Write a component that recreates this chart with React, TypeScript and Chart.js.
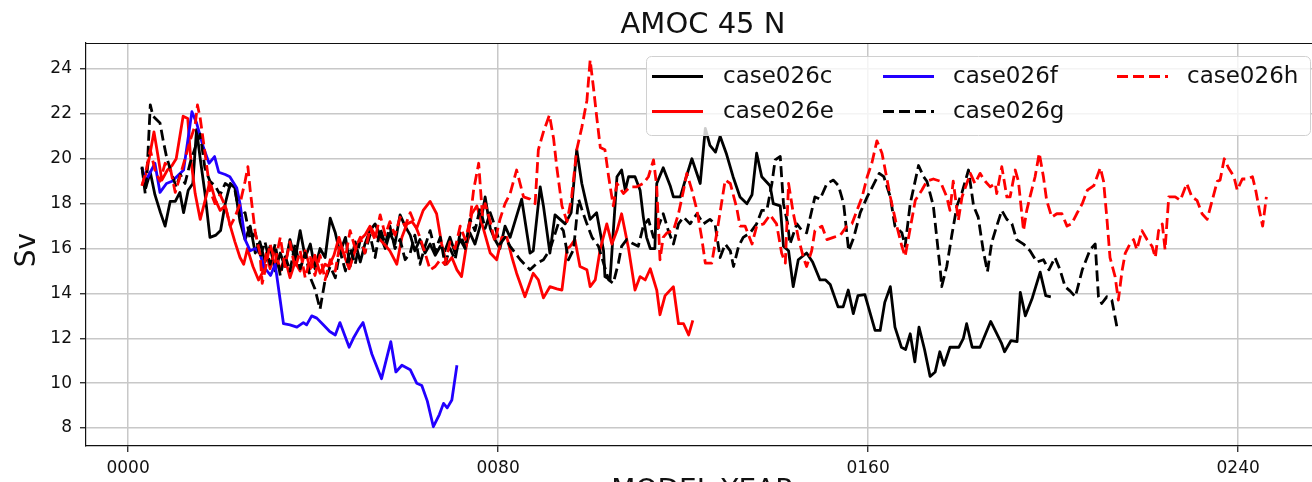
import React, { useEffect, useRef } from 'react';
import { Chart, registerables } from 'chart.js';

Chart.register(...registerables);

// ---- data: [model year, AMOC at 45N in Sv] ----
const case026c: [number, number][] = [[3,19.6],[3.8,18.7],[4.8,19.4],[5.8,18.4],[7,17.6],[8,17.0],[9.1,18.1],[10.2,18.1],[11.2,18.5],[12,17.6],[13,18.6],[14,18.9],[14.8,21.3],[15.6,20.0],[16.6,18.5],[17.7,16.5],[19,16.6],[20,16.8],[21,18.0],[22.1,18.9],[23.1,18.7],[24.2,17.2],[25.3,16.4],[26.4,17.0],[27.5,15.8],[28.5,16.3],[29.6,15.4],[30.7,16.1],[31.8,15.0],[32.9,15.8],[33.9,15.2],[35,16.4],[36.1,15.5],[37.2,16.8],[38.3,15.6],[39.4,16.2],[40.4,15.1],[41.5,16.0],[42.6,15.6],[43.7,17.35],[44.8,16.7],[45.8,15.8],[47,16.5],[48,15.2],[49.1,16.3],[50.2,15.4],[51.2,16.2],[52.3,16.8],[53.4,17.1],[54.5,16.6],[55.6,16.0],[56.6,16.7],[57.7,16.2],[58.8,17.5],[59.9,17.0],[61,16.6],[62,15.9],[63.1,16.4],[64.2,15.8],[65.3,16.2],[66.4,15.7],[67.5,16.1],[68.5,15.9],[69.6,16.5],[70.7,15.8],[71.8,16.4],[72.9,16.0],[73.9,16.7],[75,16.2],[76.1,17.0],[77.2,18.3],[78.3,16.9],[79.3,16.4],[80.4,16.0],[81.5,17.0],[82.6,16.5],[85.1,18.2],[86.9,15.8],[87.6,15.9],[89.1,18.75],[89.8,17.9],[91.2,15.8],[92.3,17.5],[93.4,17.3],[94.5,17.1],[95.8,17.6],[97,20.4],[98.1,18.9],[99.2,17.9],[99.9,17.3],[101.3,17.6],[102.8,15.9],[103.1,14.75],[104.2,14.6],[105.7,19.2],[106.7,19.5],[107.5,18.6],[108.2,19.2],[109.6,19.2],[110.7,18.6],[111.4,17.4],[112.1,16.5],[112.9,16.0],[113.9,16.0],[114.3,18.9],[115.7,19.6],[117.2,18.8],[117.9,18.3],[119.4,18.3],[120.4,19.0],[121.9,20.0],[123.7,18.9],[124.8,21.35],[125.8,20.6],[127,20.3],[128,21.0],[129.4,20.2],[130.8,19.2],[132.3,18.3],[133.8,18.0],[134.9,18.4],[135.9,20.25],[137,19.2],[138.8,18.8],[139.5,18.0],[141,17.9],[141.7,16.1],[142.8,15.9],[143.8,14.3],[144.9,15.5],[146.7,15.8],[148,15.4],[149.6,14.6],[150.8,14.6],[151.8,14.4],[153.5,13.4],[154.6,13.4],[155.7,14.15],[156.8,13.1],[157.8,13.9],[159.3,13.95],[161.5,12.35],[162.6,12.35],[163.6,13.6],[164.8,14.3],[165.8,12.5],[167.2,11.6],[168.1,11.5],[169.1,12.2],[170.1,10.95],[171,12.5],[172.2,11.5],[173.4,10.3],[174.5,10.5],[175.5,11.4],[176.4,10.8],[177.7,11.6],[179.6,11.6],[180.6,12.0],[181.3,12.65],[182.5,11.6],[184.2,11.6],[185.4,12.2],[186.5,12.75],[187.6,12.3],[188.8,11.8],[189.5,11.4],[190.9,11.9],[192.2,11.85],[192.9,14.05],[194,13.0],[195.5,13.8],[197.2,14.95],[198.4,13.9],[199.5,13.85]];

const case026e: [number, number][] = [[3,18.8],[4.1,19.5],[5.6,21.2],[6.4,20.2],[7.3,19.05],[8.5,19.5],[9.5,19.7],[10.4,20.0],[11.9,21.9],[12.9,21.8],[13.5,20.1],[14.5,18.45],[15.6,17.3],[16.6,18.1],[17.7,19.0],[18.8,18.2],[19.9,17.7],[21,17.9],[22.1,17.0],[23.1,16.3],[24.2,15.6],[25,15.3],[25.8,16.0],[27,15.2],[28.2,14.6],[29,14.9],[29.9,15.8],[30.7,15.1],[31.8,16.0],[32.9,15.0],[33.9,15.6],[35,14.7],[36.1,15.4],[37.2,15.0],[38.3,15.9],[39.4,15.1],[40.4,15.7],[41.5,14.9],[42.6,15.3],[43.4,15.2],[44.5,15.7],[45.6,16.5],[46.7,15.7],[47.8,15.1],[49.1,15.9],[50.2,16.4],[51.2,16.6],[52.3,17.0],[53.4,16.6],[54.9,16.3],[55.8,16.1],[56.6,15.9],[58.1,15.3],[59.2,16.5],[60.3,17.1],[61.4,17.2],[62.4,16.9],[63.8,17.7],[65.3,18.1],[66.7,17.55],[67.8,16.2],[68.9,15.3],[70,15.6],[71.1,15.05],[72.1,14.75],[73.2,16.2],[74.3,17.55],[75.4,17.9],[76.8,16.9],[78.3,15.8],[79.7,15.5],[80.8,16.5],[81.9,16.5],[83,15.6],[84,14.9],[85.8,13.85],[87.6,14.9],[88.7,14.6],[89.8,13.8],[91.2,14.3],[92.7,14.2],[93.8,14.15],[94.9,16.0],[95.6,16.1],[96.6,16.4],[97.7,15.2],[99.2,15.05],[99.9,14.3],[101,14.6],[102.1,16.0],[103.5,17.1],[104.6,16.2],[105.7,16.8],[106.7,17.55],[108.2,16.0],[109.6,14.15],[110.7,14.75],[111.8,14.6],[112.9,15.1],[114.3,14.15],[115,13.05],[116.1,13.9],[117.9,14.3],[119,12.65],[120.1,12.65],[121.2,12.15],[122.1,12.8]];

const case026f: [number, number][] = [[3,19.6],[3.8,19.0],[4.8,19.4],[5.8,19.8],[6.9,18.5],[8.3,18.9],[9.5,19.0],[10.5,19.2],[12,19.5],[13.8,22.1],[14.8,21.6],[16.3,20.5],[17.5,19.8],[18.7,20.1],[19.6,19.4],[21,19.3],[22,19.2],[23.5,18.7],[24.2,18.0],[25.3,16.4],[26.4,15.9],[27.5,16.0],[28.5,15.8],[29.3,15.2],[30.8,14.8],[31.8,15.3],[33.6,12.65],[35,12.6],[36.5,12.5],[37.9,12.7],[38.6,12.6],[39.7,13.0],[40.8,12.9],[42.2,12.6],[43.6,12.3],[44.8,12.15],[45.8,12.7],[47.8,11.6],[48.7,12.0],[49.8,12.4],[50.8,12.7],[52.7,11.3],[54.8,10.2],[56.8,11.85],[57.9,10.5],[59.2,10.8],[61,10.6],[62.4,10.0],[63.5,9.9],[64.7,9.2],[66,8.06],[67.3,8.6],[68.2,9.1],[69,8.9],[70,9.25],[71.1,10.8]];

const case026g: [number, number][] = [[3,19.65],[3.7,18.45],[4.1,19.4],[4.8,22.4],[5.4,21.9],[6.9,21.6],[7.6,20.8],[8.3,20.1],[9.3,19.4],[10.4,18.75],[11.3,19.3],[12.3,18.9],[13.4,19.8],[14.5,20.5],[15.6,21.1],[16.6,19.6],[17.7,19.0],[18.8,18.8],[19.9,18.4],[21,18.9],[22.1,18.75],[23.1,18.6],[24.2,17.4],[25.3,17.6],[26.4,16.4],[27.5,16.7],[28.5,15.6],[29.6,16.3],[30.7,15.3],[31.8,16.2],[32.9,14.8],[33.9,15.7],[35,15.0],[36.1,16.2],[37.2,15.1],[38.3,15.8],[39.4,14.7],[40.4,14.2],[41.5,13.3],[42.6,14.6],[43.7,15.2],[44.8,14.7],[45.8,15.9],[47,15.0],[48,16.0],[49.1,15.3],[50.2,16.4],[51.2,15.8],[52.3,16.6],[53.4,15.6],[54.5,16.9],[55.6,16.2],[56.6,17.0],[57.7,16.0],[58.8,16.4],[59.9,15.5],[61,15.8],[62,16.6],[63.1,15.3],[64.2,16.1],[65.3,16.8],[66.4,15.9],[67.5,16.5],[68.5,15.3],[69.6,16.0],[70.7,15.5],[71.8,16.7],[72.9,16.0],[73.9,17.3],[75,16.8],[76.1,17.8],[77.2,16.9],[78.3,17.6],[79.3,17.0],[80.4,16.2],[81.5,16.5],[82.6,16.1],[84.8,15.5],[86.9,15.05],[88.4,15.35],[89.8,15.5],[91.2,15.95],[93,17.1],[94.1,16.8],[95.2,15.5],[96.3,15.95],[97.4,18.2],[98.1,17.75],[99.2,17.1],[100.3,16.5],[101.7,16.1],[102.8,15.35],[103.9,14.6],[104.9,14.45],[106,15.35],[106.7,16.1],[107.8,16.4],[108.9,16.25],[110.3,16.1],[111.4,17.0],[112.5,17.3],[113.6,16.5],[114.7,17.0],[115.7,17.55],[116.8,16.8],[117.9,16.2],[119,17.1],[120.1,17.4],[121.5,17.1],[123,17.55],[124.4,17.1],[125.8,17.3],[126.9,17.1],[128,15.6],[129.1,16.2],[130.2,15.9],[130.9,15.2],[132,16.1],[133,16.5],[134.5,16.7],[135.9,17.1],[137,17.7],[138.1,17.7],[139.2,18.9],[139.9,19.95],[141,20.1],[141.7,18.0],[142.6,17.1],[143.1,16.2],[144.6,17.1],[145.7,16.8],[146.7,16.7],[148.5,18.3],[149.6,18.2],[151.1,18.9],[152.5,19.05],[153.6,18.8],[154.7,18.0],[155.8,15.9],[156.9,16.5],[158.3,17.6],[159.8,18.3],[161.3,18.9],[162.4,19.35],[163.4,19.2],[164.8,18.3],[165.8,17.0],[167.3,16.7],[168,16.1],[169.1,18.0],[170.9,19.7],[172,19.2],[172.7,19.0],[174.1,17.9],[175.6,15.05],[175.9,14.3],[177,15.2],[178.1,16.6],[179.2,17.9],[180.3,18.5],[181.7,19.5],[182.8,17.9],[183.8,17.4],[184.9,15.9],[185.8,14.97],[186.7,16.25],[187.8,17.0],[188.9,17.7],[190,17.3],[191.1,17.1],[192.1,16.4],[193.6,16.2],[195,15.9],[196.5,15.4],[197.9,15.5],[199.1,15.05],[200.4,15.6],[201.5,15.05],[202.6,14.3],[203.7,14.1],[204.8,13.85],[206.3,15.05],[208,15.95],[209.1,16.2],[209.8,13.85],[210.5,13.55],[211.6,13.85],[212.7,13.7],[213.8,12.5]];

const case026h: [number, number][] = [[3,18.8],[3.7,19.3],[4.8,20.4],[5.8,19.5],[6.9,19.0],[8,19.8],[9.1,19.6],[10.2,18.5],[11.2,19.2],[12.3,20.0],[13.4,20.8],[14.5,21.5],[15,22.4],[15.6,21.8],[16.6,20.3],[17.7,18.6],[18.8,18.0],[19.9,18.4],[21,17.9],[22.1,17.0],[23.1,17.4],[24.2,18.0],[25.3,19.0],[25.9,19.65],[26.4,18.6],[27.5,16.7],[28.5,15.8],[29,14.45],[29.6,15.0],[30.7,16.2],[31.8,15.4],[32.9,16.5],[33.9,15.2],[35,16.3],[36.1,15.1],[37.2,15.9],[38.3,14.7],[39.4,15.6],[40.4,14.8],[41.5,15.7],[42.6,14.6],[43.7,15.5],[44.8,15.0],[45.8,16.2],[47,15.6],[48,16.8],[49.1,16.0],[50.2,16.5],[51.2,15.8],[52.3,16.9],[53.4,16.4],[54.5,17.5],[55.6,16.6],[56.6,17.2],[57.7,16.6],[58.8,17.4],[59.9,17.0],[61,17.6],[62,17.1],[63.1,16.5],[64.2,15.8],[65.3,15.05],[66.4,15.2],[67.5,15.5],[68.5,15.3],[69.6,16.3],[70.7,16.0],[71.8,17.0],[72.9,16.4],[73.9,17.2],[74.7,18.6],[75.8,19.8],[76.6,17.5],[77.2,18.0],[78.3,17.2],[79.3,16.3],[80.4,17.3],[81.5,18.0],[82.6,18.45],[84,19.5],[85.5,18.3],[86.9,18.2],[88,18.0],[88.7,20.4],[89.8,21.2],[91.1,21.95],[92,20.9],[92.7,19.6],[93.8,17.9],[94.9,17.2],[95.9,18.3],[97,20.4],[98.1,21.4],[99.2,22.6],[99.9,24.4],[100.6,23.2],[101.3,21.9],[102.1,20.5],[103.1,20.4],[103.9,19.2],[104.9,17.9],[105.7,18.9],[107.1,18.45],[108.5,18.75],[110,18.75],[111.4,18.9],[112.5,19.2],[113.6,19.95],[114.3,18.75],[115,15.5],[115.7,16.5],[116.5,16.7],[117.9,16.8],[119,17.55],[120.1,18.6],[120.8,19.35],[121.9,18.6],[123,17.7],[124,16.5],[124.8,15.35],[126.2,15.35],[127.6,17.1],[129.1,19.05],[130.2,18.9],[131.6,17.8],[132.3,17.0],[133.4,17.0],[134.9,16.2],[135.9,17.0],[137.4,17.1],[138.8,17.5],[140.2,17.1],[141.3,15.8],[142.1,15.35],[142.8,18.9],[143.8,17.6],[144.9,16.5],[146,15.6],[146.7,15.2],[147.8,15.9],[148.5,16.8],[150,17.0],[151.1,16.4],[152.5,16.5],[154,16.6],[155.4,17.0],[156.5,17.1],[157.6,17.7],[158.7,18.3],[159.8,19.2],[160.8,19.8],[161.9,20.8],[163,20.25],[163.7,19.5],[164.8,18.3],[166.2,17.0],[167.3,16.1],[168,15.65],[169.1,16.9],[170.2,18.15],[171.6,18.6],[172.7,19.0],[174.1,19.1],[175.6,19.0],[177,18.3],[177.7,17.7],[178.4,19.0],[179.5,17.25],[180.3,18.3],[182.1,19.35],[183.1,18.9],[184.2,19.35],[185.3,19.0],[186.4,18.75],[187.5,18.9],[187.8,18.45],[188.9,19.65],[190,18.3],[190.7,18.3],[191.8,19.5],[192.5,19.0],[193.6,16.8],[194.3,17.7],[195,18.3],[196.1,19.2],[197,20.25],[197.9,19.2],[198.6,18.15],[199.7,17.4],[200.8,17.55],[201.9,17.55],[203,17.0],[204,17.1],[205.1,17.55],[206.3,18.0],[207.4,18.6],[208.8,18.8],[210.2,19.6],[210.9,19.0],[211.6,17.4],[212.3,15.6],[213.4,14.75],[214.1,13.7],[214.9,15.0],[215.6,15.8],[216.6,16.2],[217.4,16.4],[218.1,15.95],[219.2,16.8],[220.3,16.4],[221.4,16.1],[222.1,15.6],[222.8,16.8],[223.6,17.1],[224.2,15.95],[225,18.3],[226.4,18.3],[227.5,18.15],[228.9,18.9],[230,18.3],[231.1,18.15],[232.2,17.55],[233.3,17.3],[234.4,18.15],[235.5,19.0],[236.1,19.05],[237,20.0],[237.9,19.6],[239.1,19.2],[239.8,18.6],[240.9,19.1],[242,19.1],[243.1,19.2],[243.8,18.6],[244.6,17.7],[245.3,17.0],[246.1,18.3]];

const xTickValues = [0, 80, 160, 240];
const yTickValues = [8, 10, 12, 14, 16, 18, 20, 22, 24];
const TITLE = 'AMOC 45 N';
const Y_LABEL = 'Sv';
const X_LABEL = 'MODEL YEAR';

const BLACK = '#000000';
const RED = '#ff0000';
const BLUE = '#2200ff';
const FONT = "'DejaVu Sans', sans-serif";
const LW = 2.8;
const DASH = [11, 5];

const series = [
  { label: 'case026c', data: case026c, color: BLACK, dashed: false },
  { label: 'case026e', data: case026e, color: RED, dashed: false },
  { label: 'case026f', data: case026f, color: BLUE, dashed: false },
  { label: 'case026g', data: case026g, color: BLACK, dashed: true },
  { label: 'case026h', data: case026h, color: RED, dashed: true },
];

const CW = 1330;
const CH = 482;

const overlayPlugin = {
  id: 'overlay',
  afterDraw(chart: any) {
    const ctx = chart.ctx as CanvasRenderingContext2D;
    const ca = chart.chartArea;
    ctx.save();
    // top and right spines
    ctx.strokeStyle = '#111';
    ctx.lineWidth = 1.2;
    ctx.beginPath();
    ctx.moveTo(ca.left, ca.top + 0.5);
    ctx.lineTo(ca.right, ca.top + 0.5);
    ctx.stroke();
    ctx.beginPath();
    ctx.moveTo(ca.right - 0.5, ca.top);
    ctx.lineTo(ca.right - 0.5, ca.bottom);
    ctx.stroke();

    const cx = (ca.left + ca.right) / 2;
    ctx.fillStyle = '#111';
    // title
    ctx.font = `29px ${FONT}`;
    ctx.textAlign = 'center';
    ctx.textBaseline = 'alphabetic';
    ctx.fillText(TITLE, cx, 33);
    // x label (cropped at the bottom edge)
    ctx.font = `28px ${FONT}`;
    ctx.fillText(X_LABEL, cx, 499);
    // y label
    ctx.save();
    ctx.translate(35, 250);
    ctx.rotate(-Math.PI / 2);
    ctx.font = `28px ${FONT}`;
    ctx.fillText(Y_LABEL, 0, 0);
    ctx.restore();

    // legend
    const bx = 646, by = 56, bw = 664, bh = 79;
    ctx.beginPath();
    (ctx as any).roundRect(bx + 0.5, by + 0.5, bw, bh, 5);
    ctx.fillStyle = 'rgba(255,255,255,0.8)';
    ctx.fill();
    ctx.strokeStyle = '#d0d0d0';
    ctx.lineWidth = 1;
    ctx.stroke();

    const colX = [652, 883, 1117];
    const textX = [723, 953, 1187];
    const rowY = [76.5, 111.5];
    const order = [[0, 0], [0, 1], [1, 0], [1, 1], [2, 0]];
    ctx.font = `23px ${FONT}`;
    ctx.textAlign = 'left';
    ctx.textBaseline = 'middle';
    series.forEach((s, i) => {
      const [c, r] = order[i];
      const y = rowY[r];
      ctx.strokeStyle = s.color;
      ctx.lineWidth = LW;
      ctx.setLineDash(s.dashed ? DASH : []);
      ctx.lineCap = 'butt';
      ctx.beginPath();
      ctx.moveTo(colX[c], y);
      ctx.lineTo(colX[c] + 51, y);
      ctx.stroke();
      ctx.setLineDash([]);
      ctx.fillStyle = '#111';
      ctx.fillText(s.label, textX[c], y + 1);
    });
    ctx.restore();
  },
};

export default function App() {
  const ref = useRef<HTMLCanvasElement | null>(null);
  useEffect(() => {
    if (!ref.current) return;
    const n = series.length;
    const chart = new Chart(ref.current, {
      type: 'line',
      data: {
        datasets: series.map((s, i) => ({
          label: s.label,
          data: s.data.map(([x, y]) => ({ x, y })),
          borderColor: s.color,
          backgroundColor: s.color,
          borderWidth: LW,
          borderDash: s.dashed ? DASH : [],
          borderJoinStyle: 'round' as const,
          pointRadius: 0,
          pointHoverRadius: 0,
          tension: 0,
          fill: false,
          order: n - i,
        })),
      },
      options: {
        animation: false,
        responsive: false,
        devicePixelRatio: 1,
        events: [],
        layout: { padding: { top: 43, right: 10, left: 0, bottom: 0 } },
        plugins: {
          legend: { display: false },
          title: { display: false },
          tooltip: { enabled: false },
        },
        scales: {
          x: {
            type: 'linear',
            min: -9.1,
            max: 257.7,
            afterBuildTicks: (s: any) => {
              s.ticks = xTickValues.map((v) => ({ value: v }));
            },
            afterFit: (s: any) => {
              s.height = 36;
            },
            ticks: {
              callback: (v: any) => String(v).padStart(4, '0'),
              font: { family: FONT, size: 17 },
              color: '#111',
              padding: 6,
              maxRotation: 0,
              autoSkip: false,
            },
            grid: {
              color: '#c8c8c8',
              lineWidth: 1.5,
              tickLength: 6,
              tickColor: '#111',
              tickWidth: 1.2,
            },
            border: { color: '#111', width: 1.2 },
          },
          y: {
            type: 'linear',
            min: 7.2,
            max: 25.16,
            afterBuildTicks: (s: any) => {
              s.ticks = yTickValues.map((v) => ({ value: v }));
            },
            afterFit: (s: any) => {
              s.width = 86;
            },
            ticks: {
              font: { family: FONT, size: 17 },
              color: '#111',
              padding: 8,
              autoSkip: false,
            },
            grid: {
              color: '#c8c8c8',
              lineWidth: 1.5,
              tickLength: 6,
              tickColor: '#111',
              tickWidth: 1.2,
            },
            border: { color: '#111', width: 1.2 },
          },
        },
      },
      plugins: [overlayPlugin],
    } as any);
    return () => chart.destroy();
  }, []);

  return (
    <div
      style={{
        position: 'fixed',
        left: 0,
        top: 0,
        width: 1312,
        height: 482,
        overflow: 'hidden',
        background: '#ffffff',
      }}
    >
      <canvas
        ref={ref}
        width={CW}
        height={CH}
        style={{ display: 'block', width: CW, height: CH }}
      />
    </div>
  );
}
